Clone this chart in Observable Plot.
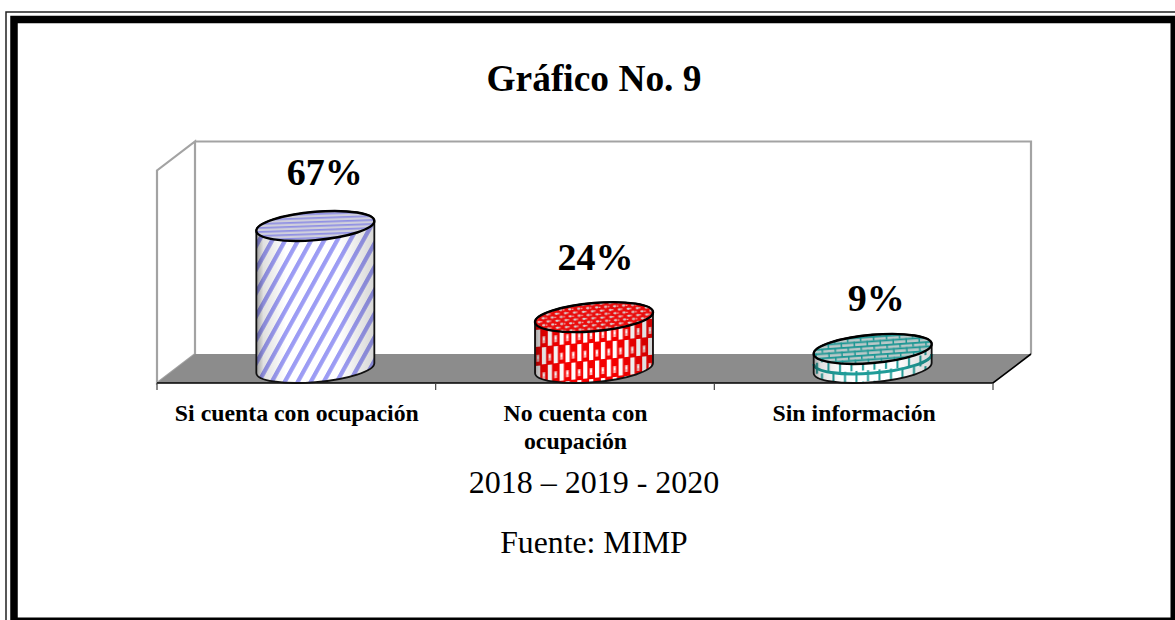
<!DOCTYPE html>
<html lang="es">
<head>
<meta charset="utf-8">
<style>html,body{margin:0;padding:0;background:#fff;overflow:hidden}svg{display:block}</style>
<script src="https://cdn.jsdelivr.net/npm/d3@7"></script>
<script src="https://cdn.jsdelivr.net/npm/@observablehq/plot@0.6"></script>
</head>
<body>
<script>
const categories = ["Si cuenta con ocupación", "No cuenta con\nocupación", "Sin información"];
const shares = [67, 24, 9];
const valueLabels = ["67%", "24%", "9%"];
const chartTitle = "Gráfico No. 9";
const yearsLine = "2018 – 2019 - 2020";
const sourceLine = "Fuente: MIMP";

const rows = categories.map((category, i) => ({category, share: shares[i], label: valueLabels[i], i}));

const SERIF = "'Liberation Serif','Times New Roman',serif";
const DEPTH_X = 38, DEPTH_Y = 29;
const RX = 59.2, RY = 14.1, TILT = -5, EDGE_DY = 4.9, HALF_W = 59;

function svgEl(markup) {
  const g = document.createElementNS("http://www.w3.org/2000/svg", "g");
  g.innerHTML = markup;
  return g;
}

const defsMark = () => svgEl(`<defs>
  <pattern id="bodyA" width="13" height="28" patternUnits="userSpaceOnUse" patternTransform="skewX(-29)">
    <rect width="13" height="28" fill="#fff"/><rect width="4.8" height="28" fill="#9c9cf4"/>
  </pattern>
  <pattern id="topA" width="8" height="4" patternUnits="userSpaceOnUse" patternTransform="rotate(-2)">
    <rect width="8" height="4" fill="#cfcfdc"/><rect width="8" height="1.7" fill="#8f8fe4"/>
  </pattern>
  <pattern id="bodyB" width="11.8" height="36" patternUnits="userSpaceOnUse" patternTransform="translate(535 330) skewY(-5)">
    <rect width="11.8" height="36" fill="#f40000"/>
    <rect x="1" y="0" width="4.2" height="17" fill="#fff"/>
    <rect x="6.9" y="18" width="4.2" height="17" fill="#fff"/>
    <rect x="7.4" y="7" width="2.8" height="7" fill="#fbb"/><rect x="7.9" y="8.5" width="1.8" height="2.6" fill="#fff"/>
    <rect x="1.5" y="25" width="2.8" height="7" fill="#fbb"/><rect x="2" y="26.5" width="1.8" height="2.6" fill="#fff"/>
  </pattern>
  <pattern id="topB" width="9" height="7" patternUnits="userSpaceOnUse" patternTransform="rotate(-4)">
    <rect width="9" height="7" fill="#ea0c0c"/>
    <ellipse cx="2.3" cy="1.8" rx="1.8" ry="1.1" fill="#d6d6d6"/>
    <ellipse cx="6.8" cy="5.3" rx="1.8" ry="1.1" fill="#d6d6d6"/>
    <rect x="4.2" y="1.3" width="1.2" height="1" fill="#fff"/><rect x=".2" y="4.8" width="1.2" height="1" fill="#fff"/>
  </pattern>
  <pattern id="bodyC" width="11.5" height="22" patternUnits="userSpaceOnUse" patternTransform="translate(813 352) skewY(-4)">
    <rect width="11.5" height="22" fill="#fff"/>
    <rect x="8" width="2" height="11" fill="#1f9c98"/><rect x="3" y="11" width="2" height="11" fill="#1f9c98"/>
  </pattern>
  <pattern id="topC" width="13" height="9" patternUnits="userSpaceOnUse" patternTransform="rotate(-4)">
    <rect width="13" height="9" fill="#bac8c8"/>
    <rect width="13" height="1.8" y="0" fill="#1a9693"/><rect width="13" height="1.8" y="4.5" fill="#1a9693"/>
    <rect x="2" y="0" width="1.5" height="4.5" fill="#1a9693"/><rect x="8.5" y="4.5" width="1.5" height="4.5" fill="#1a9693"/>
  </pattern>
  <linearGradient id="shade" x1="0" x2="1" y1="0" y2="0">
    <stop offset="0" stop-color="#000" stop-opacity=".38"/>
    <stop offset=".06" stop-color="#000" stop-opacity=".12"/>
    <stop offset=".25" stop-color="#000" stop-opacity="0"/>
    <stop offset=".7" stop-color="#000" stop-opacity="0"/>
    <stop offset="1" stop-color="#000" stop-opacity=".16"/>
  </linearGradient>
</defs>`);

const roomMark = (index, scales) => {
  const [x0, x1] = [157, 993];
  const yBase = scales.y(0) + DEPTH_Y / 2 + 0.5, yTop = scales.y(100) + DEPTH_Y / 2;
  const bx0 = x0 + DEPTH_X, bx1 = x1 + DEPTH_X, by0 = yBase - DEPTH_Y, by1 = yTop - DEPTH_Y;
  const step = (x1 - x0) / categories.length;
  const ticks = d3.range(categories.length + 1)
    .map(k => `M${x0 + k * step},${yBase}v7`).join("");
  return svgEl(`
    <path d="M${bx0},${by1}H${bx1}V${by0}" fill="#fff" stroke="#a3a3a3" stroke-width="2.2"/>
    <path d="M${x0},${yBase}V${yTop}L${bx0},${by1}V${by0}Z" fill="#fff" stroke="#a3a3a3" stroke-width="2.2"/>
    <path d="M${x0},${yBase}L${bx0},${by0}H${bx1}L${x1},${yBase}Z" fill="#8c8c8c"/>
    <path d="M${x0},${yBase}H${x1}L${bx1},${by0}" fill="none" stroke="#000" stroke-width="1.6"/>
    <path d="${ticks}" stroke="#444" stroke-width="1.2" fill="none"/>`);
};

const patterns = [["bodyA", "topA"], ["bodyB", "topB"], ["bodyC", "topC"]];

const cylinders = (I, scales, values) => {
  const g = svgEl("");
  const bw = (scales.x.bandwidth ? scales.x.bandwidth() : 278.67);
  for (const i of I) {
    const cx = values.x[i] + bw / 2 + DEPTH_X / 2;
    const yb = values.y1[i], yt = values.y2[i];
    const L = cx - HALF_W, R = cx + HALF_W;
    const arc = (sweep, px, py) => `A${RX},${RY} ${TILT} 1 ${sweep} ${px},${py}`;
    const body = `M${L},${yt + EDGE_DY}L${L},${yb + EDGE_DY}${arc(0, R, yb - EDGE_DY)}L${R},${yt - EDGE_DY}${arc(0, L, yt + EDGE_DY)}Z`;
    const top = `M${L},${yt + EDGE_DY}${arc(1, R, yt - EDGE_DY)}${arc(1, L, yt + EDGE_DY)}Z`;
    const seam = rows[i].i === 2
      ? `<path d="M${L},${yb - 4}${arc(0, R, yb - 14)}" fill="none" stroke="#1f9c98" stroke-width="3"/>` : "";
    g.innerHTML += `
      <path d="${body}" fill="url(#${patterns[i][0]})"/>${seam}
      <path d="${body}" fill="url(#shade)"/>
      <path d="${body}" fill="none" stroke="#111" stroke-width="1.8"/>
      <path d="${top}" fill="url(#${patterns[i][1]})" stroke="#000" stroke-width="2.4"/>`;
  }
  return g;
};

const boldValue = (d, dx, dy) => Plot.text([d], {
  x: "category", y: "share", text: "label", dx, dy,
  fontFamily: SERIF, fontWeight: "bold", fontSize: 38, fill: "#000"
});

const captionText = (s, dy, opts) => Plot.text([s], {
  text: d => d, frameAnchor: "top", lineAnchor: "middle", dx: 6, dy,
  fontFamily: SERIF, fill: "#000", ...opts
});

const chart = Plot.plot({
  width: 1175,
  height: 620,
  margin: 0,
  x: {type: "band", domain: categories, range: [157, 993], padding: 0, round: false, align: 0.5, axis: null},
  y: {domain: [0, 100], range: [368, 156], axis: null},
  style: {background: "#fff"},
  marks: [
    defsMark,
    Plot.frame({stroke: "#222", strokeWidth: 1.5, insetLeft: 5.5, insetTop: 11.5, insetRight: -10, insetBottom: -10, fill: "none"}),
    Plot.frame({stroke: "#000", strokeWidth: 7.5, insetLeft: 13.5, insetTop: 19, insetRight: 1.25, insetBottom: -0.75, fill: "none"}),
    captionText(chartTitle, 79, {fontWeight: "bold", fontSize: 37.4}),
    roomMark,
    Plot.barY(rows, {x: "category", y: "share", render: cylinders}),
    boldValue(rows[0], 28, -54),
    boldValue(rows[1], 20, -60),
    boldValue(rows[2], 22, -51),
    Plot.text(rows, {
      x: "category", text: "category", frameAnchor: "top", lineAnchor: "top", dy: 401,
      lineHeight: 1.16, fontFamily: SERIF, fontWeight: "bold", fontSize: 23.8, fill: "#000"
    }),
    captionText(yearsLine, 482, {fontSize: 32}),
    captionText(sourceLine, 542, {fontSize: 31.7})
  ]
});
document.body.appendChild(chart);
</script>
</body>
</html>
